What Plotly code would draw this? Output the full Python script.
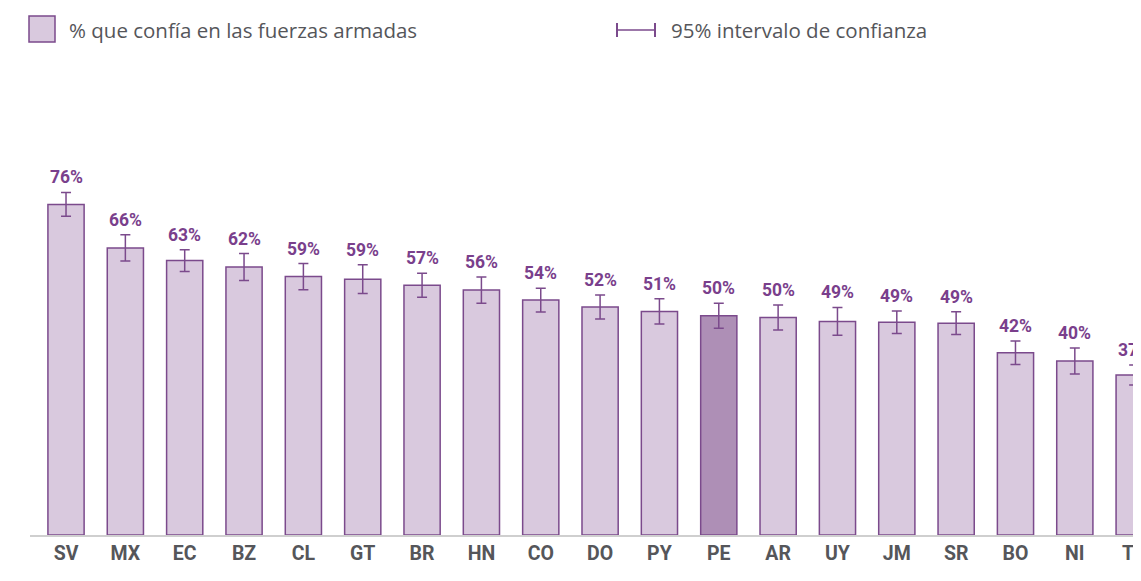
import plotly.graph_objects as go

countries = ["SV", "MX", "EC", "BZ", "CL", "GT", "BR", "HN", "CO", "DO",
             "PY", "PE", "AR", "UY", "JM", "SR", "BO", "NI", "TT"]
trust_pct = [76.0, 66.0, 63.1, 61.6, 59.4, 58.8, 57.4, 56.3, 54.0, 52.4,
             51.4, 50.4, 50.0, 49.1, 48.9, 48.7, 41.9, 40.0, 36.8]
ci_half = [2.75, 3.0, 2.5, 3.1, 3.0, 3.3, 2.75, 3.0, 2.75, 2.75,
           2.9, 2.9, 2.9, 3.2, 2.6, 2.6, 2.7, 3.0, 2.3]
highlight = "PE"

LINE = "#7b4a8c"
FILL = "#d9c9de"
FILL_HI = "#ae8fb6"
LABEL = "#7a3f8c"
GREY = "#55565a"

fills = [FILL_HI if c == highlight else FILL for c in countries]
labels = [f"{round(v)}%" for v in trust_pct]

fig = go.Figure()
fig.add_trace(go.Bar(
    x=countries, y=trust_pct,
    width=0.61,
    marker=dict(color=fills, line=dict(color=LINE, width=1.5)),
    error_y=dict(type="data", array=ci_half, color=LINE, thickness=1.5, width=5),
    hoverinfo="skip", showlegend=False,
))

for c, v, e, t in zip(countries, trust_pct, ci_half, labels):
    fig.add_annotation(x=c, y=v + e, text=t, showarrow=False,
                       yanchor="bottom", yshift=3,
                       font=dict(family="Roboto", size=17.5, color=LABEL, weight="bold"))

# custom legend (page is offset 8px by body margin)
PW, PH = 1119, 435


def px_x(sx):
    return (sx - 30) / PW


def px_y(sy):
    return 1 + (92 - (sy - 8)) / PH


fig.add_shape(type="rect", xref="paper", yref="paper",
              x0=px_x(29), x1=px_x(55), y0=px_y(42), y1=px_y(16),
              fillcolor=FILL, line=dict(color=LINE, width=1.5))
fig.add_annotation(xref="paper", yref="paper", x=px_x(67), y=px_y(30),
                   text="% que confía en las fuerzas armadas", showarrow=False,
                   xanchor="left", yanchor="middle",
                   font=dict(family="Open Sans", size=20.5, color=GREY))
fig.add_shape(type="line", xref="paper", yref="paper",
              x0=px_x(617), x1=px_x(655), y0=px_y(30), y1=px_y(30),
              line=dict(color=LINE, width=1.5))
for sx in (617, 655):
    fig.add_shape(type="line", xref="paper", yref="paper",
                  x0=px_x(sx), x1=px_x(sx), y0=px_y(37), y1=px_y(23),
                  line=dict(color=LINE, width=2))
fig.add_annotation(xref="paper", yref="paper", x=px_x(669), y=px_y(30),
                   text="95% intervalo de confianza", showarrow=False,
                   xanchor="left", yanchor="middle",
                   font=dict(family="Open Sans", size=20.5, color=GREY))

fig.update_layout(
    width=1141, height=581,
    margin=dict(l=22, r=0, t=92, b=54),
    plot_bgcolor="white", paper_bgcolor="white",
    xaxis=dict(range=[-0.607, 18.25], showgrid=False, showline=True,
               linecolor="#cfcfcf", linewidth=1.5, ticks="",
               tickfont=dict(family="Roboto", size=19.5, color=GREY, weight="bold")),
    yaxis=dict(range=[0, 100], visible=False, showgrid=False),
)

fig.write_html("out.html")
